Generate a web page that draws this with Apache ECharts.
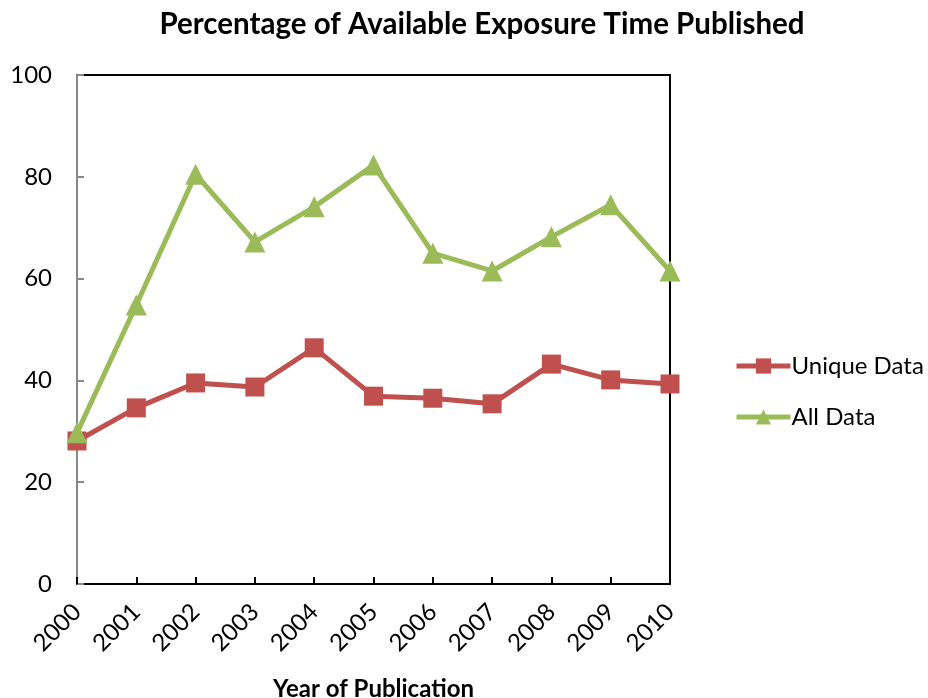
<!DOCTYPE html>
<html><head><meta charset="utf-8">
<script src="https://cdn.jsdelivr.net/npm/echarts@6/dist/echarts.min.js"></script>
<style>html,body{margin:0;padding:0;background:#fff;overflow:hidden}#c{width:928px;height:698px}</style>
</head><body><div id="c"></div>
<script>
var years = ['2000','2001','2002','2003','2004','2005','2006','2007','2008','2009','2010'];
var uniqueData = [28.1, 34.6, 39.5, 38.7, 46.4, 36.9, 36.5, 35.4, 43.2, 40.1, 39.3];
var allData = [29.7, 54.8, 80.5, 67.2, 74.1, 82.3, 65.0, 61.5, 68.2, 74.5, 61.5];
var yTicks = [0, 20, 40, 60, 80, 100];

var FONT = 'Lato';
var chart = echarts.init(document.getElementById('c'));
chart.setOption({
  animation: false,
  title: {
    text: 'Percentage of Available Exposure Time Published',
    left: 477, top: 4, textAlign: 'center',
    textStyle: {fontFamily: FONT, fontWeight: 'bold', fontSize: 29.5, color: '#000'}
  },
  grid: {left: 77, width: 593, top: 75, height: 509, show: true, borderColor: '#000', borderWidth: 2,
         containLabel: false, outerBoundsMode: 'none'},
  legend: {
    orient: 'vertical', left: 729, top: 349, itemWidth: 54, itemHeight: 19, itemGap: 27,
    lineStyle: {width: 5},
    textStyle: {fontFamily: FONT, fontSize: 24, color: '#000', padding: [0, 0, 0, -4]},
    data: ['Unique Data', 'All Data']
  },
  xAxis: {
    type: 'category', data: years, boundaryGap: false,
    name: 'Year of Publication', nameLocation: 'middle', nameGap: 93,
    nameTextStyle: {fontFamily: FONT, fontWeight: 'bold', fontSize: 24, color: '#000'},
    axisLine: {lineStyle: {color: '#000', width: 2}},
    axisTick: {inside: true, length: 7, lineStyle: {color: '#000', width: 2}, alignWithLabel: true},
    axisLabel: {rotate: 45, fontFamily: FONT, fontSize: 24, color: '#000', margin: 24, interval: 0},
    splitLine: {show: false}
  },
  yAxis: {
    type: 'value', min: yTicks[0], max: yTicks[yTicks.length - 1], interval: 20,
    axisLine: {show: true, lineStyle: {color: '#888', width: 2}},
    axisTick: {show: true, inside: true, length: 7, lineStyle: {color: '#888', width: 2}},
    axisLabel: {fontFamily: FONT, fontSize: 24, color: '#000', margin: 25},
    splitLine: {show: false}
  },
  series: [
    {name: 'Unique Data', type: 'line', data: uniqueData, symbol: 'rect', symbolSize: 19,
     lineStyle: {color: '#C0504D', width: 5}, itemStyle: {color: '#C0504D'}},
    {name: 'All Data', type: 'line', data: allData, symbol: 'triangle', symbolSize: 21,
     lineStyle: {color: '#9BBB59', width: 5}, itemStyle: {color: '#9BBB59'}}
  ]
});
</script></body></html>
